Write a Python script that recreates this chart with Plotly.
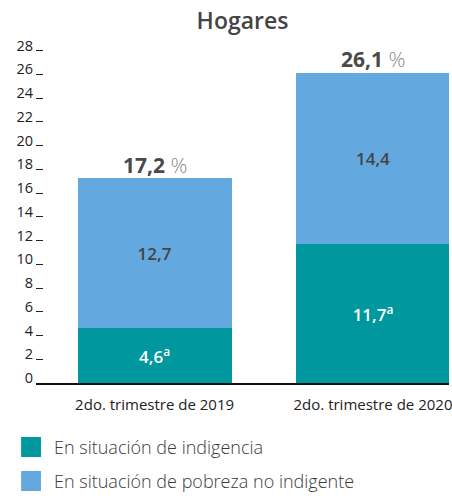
import plotly.graph_objects as go

categories = ["2do. trimestre de 2019", "2do. trimestre de 2020"]
indigencia = [4.6, 11.7]
pobreza_no_indigente = [12.7, 14.4]
totales = [17.2, 26.1]
series_names = ["En situación de indigencia", "En situación de pobreza no indigente"]
y_ticks = list(range(0, 29, 2))

TEAL = "#00979F"
BLUE = "#63A9E0"

def fmt(v):
    return f"{v:.1f}".replace(".", ",")

fig = go.Figure()
fig.add_trace(go.Bar(
    x=categories, y=indigencia, name=series_names[0],
    marker=dict(color=TEAL, line=dict(width=0)),
    text=[fmt(v) + "<sup>a</sup>" for v in indigencia],
    textposition="inside", insidetextanchor="middle",
    textfont=dict(family="Open Sans", size=17, color="white", weight=600),
    width=0.705, showlegend=False, hoverinfo="skip",
))
fig.add_trace(go.Bar(
    x=categories, y=pobreza_no_indigente, name=series_names[1],
    marker=dict(color=BLUE, line=dict(width=0)),
    text=[fmt(v) for v in pobreza_no_indigente],
    textposition="inside", insidetextanchor="middle",
    textfont=dict(family="Open Sans", size=17, color="#444444", weight=600),
    width=0.705, showlegend=False, hoverinfo="skip",
))

for c, t in zip(categories, totales):
    fig.add_annotation(
        x=c, y=t, xref="x", yref="y",
        text=f"<b>{fmt(t)}</b> <span style='color:#8a8a8a;font-weight:300'>%</span>",
        showarrow=False, yshift=14,
        font=dict(family="Open Sans", size=21, color="#4a4a4a"),
    )

# manual legend
L, R, T, B = 36, 452, 40, 383
W, H = R - L, B - T
def px(x):
    return (x - L) / W
def py(y):
    return (B - y) / H

for (y0, y1), col, name in zip([(437, 457), (471, 491)], [TEAL, BLUE], series_names):
    fig.add_shape(type="rect", xref="paper", yref="paper",
                  x0=px(21), x1=px(41), y0=py(y1), y1=py(y0),
                  fillcolor=col, line=dict(width=0))
    fig.add_annotation(xref="paper", yref="paper", x=px(52), y=py((y0 + y1) / 2),
                       xanchor="left", yanchor="middle", showarrow=False,
                       text=name, font=dict(family="Open Sans", size=18, color="#3a3a3a", weight=300))

fig.update_layout(
    width=452, height=496,
    margin=dict(l=L, r=452 - R, t=T, b=496 - B),
    paper_bgcolor="white", plot_bgcolor="white",
    barmode="stack", bargap=0.3,
    title=dict(text="Hogares", x=0.5, xref="paper", xanchor="center",
               y=1 - 21 / 496, yref="container", yanchor="middle",
               font=dict(family="Open Sans", size=23, color="#444444", weight=600)),
    xaxis=dict(range=[-0.543, 1.348], showline=True, linecolor="#111111", linewidth=1.5,
               ticks="", showgrid=False, zeroline=False,
               tickfont=dict(family="Open Sans", size=15, color="#222222"),
               ticklabelstandoff=7),
    yaxis=dict(range=[0, 28.9], tickvals=y_ticks, showgrid=False, zeroline=False,
               showline=False, ticks="inside", ticklen=7, tickwidth=1.2, tickcolor="#222222",
               tickfont=dict(family="Open Sans", size=14.5, color="#222222"),
               ticklabelshift=-5, ticklabelstandoff=2),
)

fig.write_html("out.html", config={"displayModeBar": False},
               post_script="document.body.style.margin='0';document.body.style.overflow='hidden';")
